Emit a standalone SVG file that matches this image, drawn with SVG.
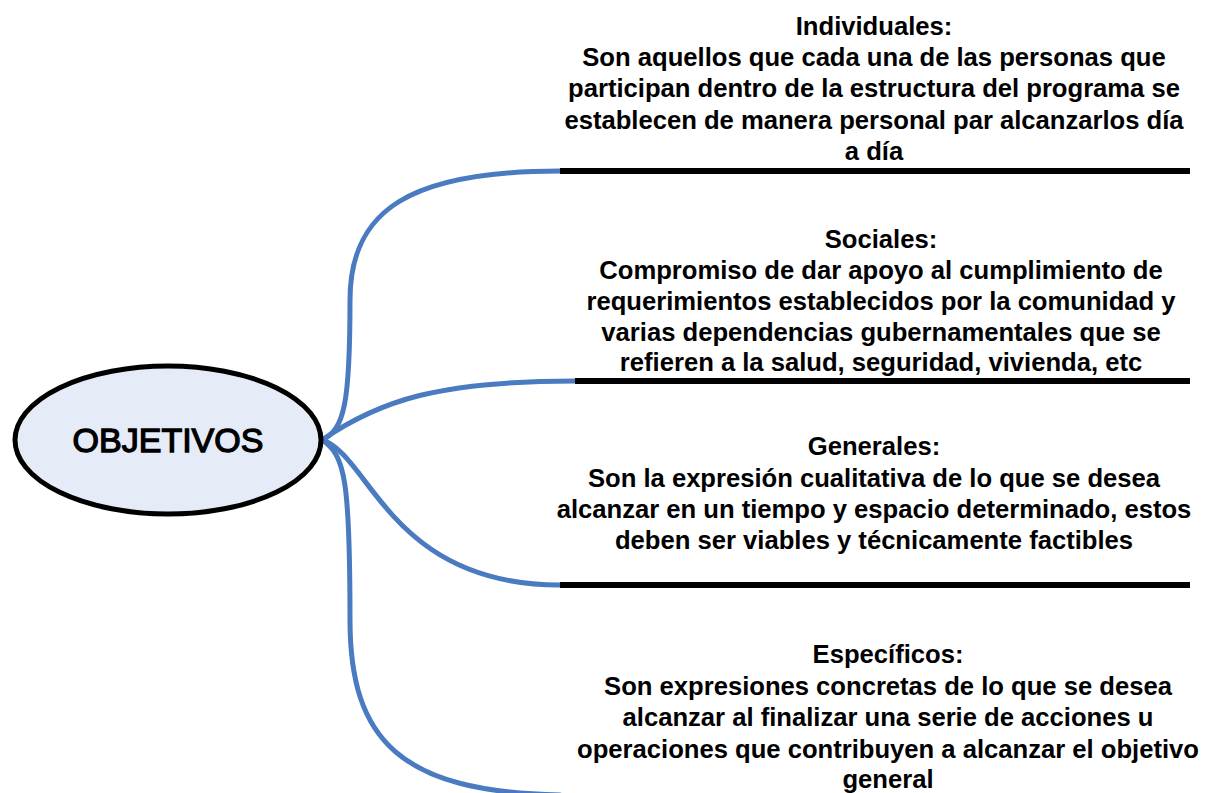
<svg xmlns="http://www.w3.org/2000/svg" width="1207" height="793" viewBox="0 0 1207 793">
<style>
.t{font-family:"Liberation Sans",Arial,sans-serif;font-weight:bold;font-size:25px;fill:#000;text-anchor:middle}
.c{fill:none;stroke:#4a7bc1;stroke-width:5;stroke-linecap:round}
.b{stroke:#000;stroke-width:6}
</style>
<rect width="1207" height="793" fill="#fff"/>
<g id="connectors">
<path class="c" d="M322,440 C345,430 350,400 350,300 C350,210 410,171 560,171"/>
<path class="c" d="M322,440 C380,400 440,381 575,381"/>
<path class="c" d="M322,440 C370,455 390,585 560,585"/>
<path class="c" d="M322,440 C345,455 350,480 350,620 C350,740 400,792 560,795"/>
</g>
<g id="objetivos">
<ellipse cx="168" cy="440" rx="153" ry="74" fill="#e6ecf7" stroke="#000" stroke-width="5"/>
<text class="t" x="168" y="452" style="font-size:34px;font-weight:normal;stroke:#000;stroke-width:1.3">OBJETIVOS</text>
</g>
<g id="individuales">
<line class="b" x1="560" y1="171" x2="1190" y2="171"/>
<text class="t" transform="translate(874,0) scale(1.025,1)"><tspan x="0" y="35">Individuales:</tspan><tspan x="0" y="66">Son aquellos que cada una de las personas que</tspan><tspan x="0" y="97">participan dentro de la estructura del programa se</tspan><tspan x="0" y="129">establecen de manera personal par alcanzarlos día</tspan><tspan x="0" y="160">a día</tspan></text>
</g>
<g id="sociales">
<line class="b" x1="575" y1="381" x2="1190" y2="381"/>
<text class="t" transform="translate(881,0) scale(1.025,1)"><tspan x="0" y="248">Sociales:</tspan><tspan x="0" y="279">Compromiso de dar apoyo al cumplimiento de</tspan><tspan x="0" y="310">requerimientos establecidos por la comunidad y</tspan><tspan x="0" y="341">varias dependencias gubernamentales que se</tspan><tspan x="0" y="371">refieren a la salud, seguridad, vivienda, etc</tspan></text>
</g>
<g id="generales">
<line class="b" x1="560" y1="585" x2="1190" y2="585"/>
<text class="t" transform="translate(874,0) scale(1.025,1)"><tspan x="0" y="455">Generales:</tspan><tspan x="0" y="487">Son la expresión cualitativa de lo que se desea</tspan><tspan x="0" y="518">alcanzar en un tiempo y espacio determinado, estos</tspan><tspan x="0" y="549">deben ser viables y técnicamente factibles</tspan></text>
</g>
<g id="especificos">
<text class="t" transform="translate(888,0) scale(1.025,1)"><tspan x="0" y="663">Específicos:</tspan><tspan x="0" y="695">Son expresiones concretas de lo que se desea</tspan><tspan x="0" y="726">alcanzar al finalizar una serie de acciones u</tspan><tspan x="0" y="758">operaciones que contribuyen a alcanzar el objetivo</tspan><tspan x="0" y="788">general</tspan></text>
</g>
</svg>
